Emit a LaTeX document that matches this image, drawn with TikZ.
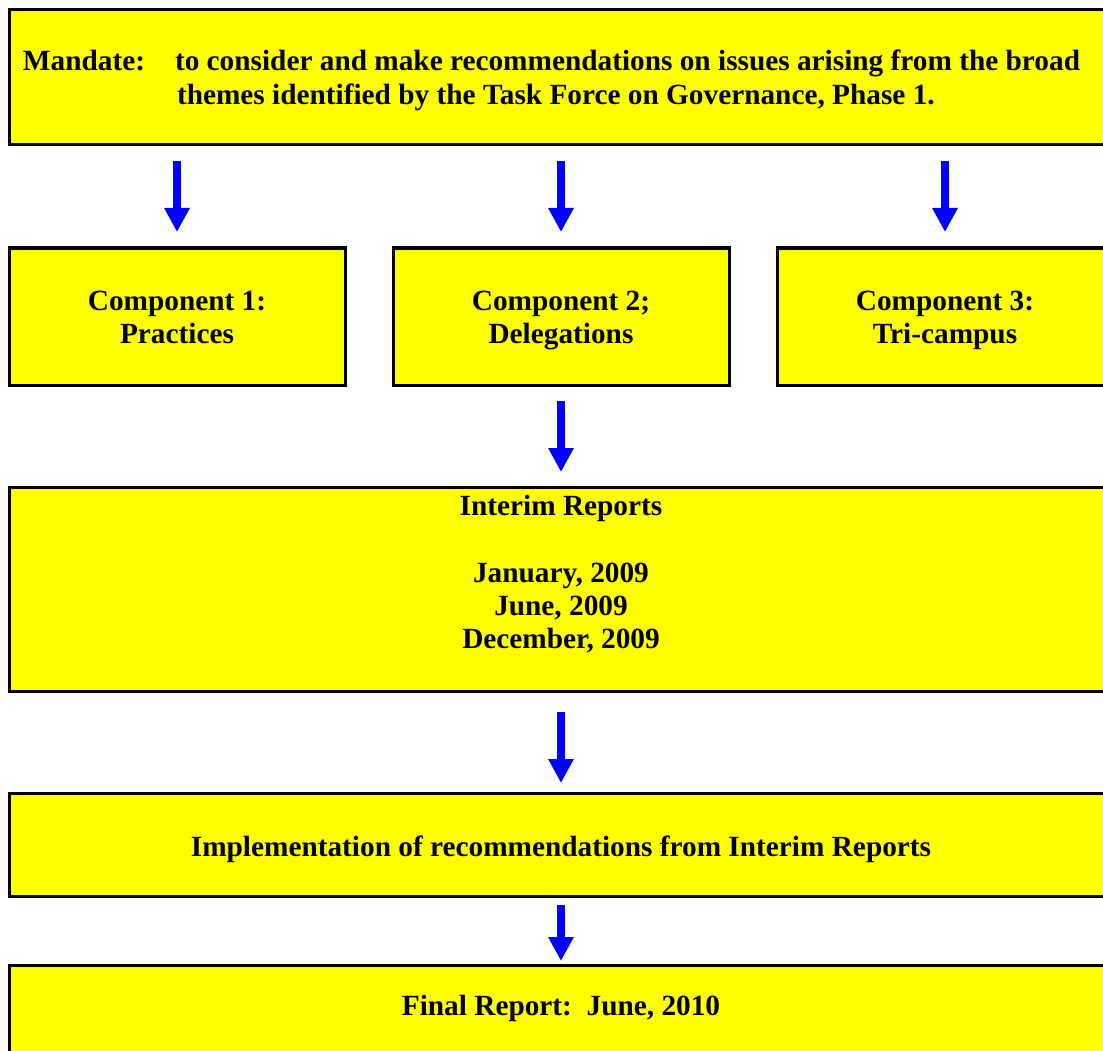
\documentclass[tikz,border=0pt]{standalone}
\usepackage{fontspec}
\setmainfont{Liberation Serif}
\usetikzlibrary{arrows.meta}
\definecolor{boxyellow}{HTML}{FFFF00}
\definecolor{flowblue}{HTML}{0000FF}
\begin{document}
\begin{tikzpicture}[x=1pt,y=-1pt,
  box/.style={draw=black,line width=3pt,fill=boxyellow,rectangle,inner sep=0pt,outer sep=0pt},
  txt/.style={inner sep=0pt,outer sep=0pt,font=\fontsize{29.3}{33.7}\selectfont\bfseries},
  flow/.style={draw=flowblue,line width=8pt,-{Triangle[width=24pt,length=24pt,fill=flowblue]}}]
\clip (0,0) rectangle (1103,1051);
\fill[white] (0,0) rectangle (1103,1051);
% boxes
\node[box,minimum width=1104pt,minimum height=135pt] (mandate) at (561,77.5) {};
\node[box,minimum width=336pt,minimum height=137pt] (c1) at (177,316.5) {};
\node[box,minimum width=336pt,minimum height=137pt] (c2) at (561,316.5) {};
\node[box,minimum width=336pt,minimum height=137pt] (c3) at (945,316.5) {};
\node[box,minimum width=1104pt,minimum height=204pt] (interim) at (561,589) {};
\node[box,minimum width=1104pt,minimum height=103pt] (impl) at (561,844.5) {};
\node[box,minimum width=1104pt,minimum height=110pt] (final) at (561,1020) {};
% texts
\node[txt,anchor=base west] (mlab) at (23,71) {Mandate:};
\node[txt,anchor=base west] (m1) at (175,71) {to consider and make recommendations on issues arising from the broad};
\node[txt,anchor=base west] (m2) at (177,105) {themes identified by the Task Force on Governance, Phase 1.};
\node[txt,anchor=base] (c1a) at (177,310) {Component 1:};
\node[txt,anchor=base] (c1b) at (177,343) {Practices};
\node[txt,anchor=base] (c2a) at (561,310) {Component 2;};
\node[txt,anchor=base] (c2b) at (561,343) {Delegations};
\node[txt,anchor=base] (c3a) at (945,310) {Component 3:};
\node[txt,anchor=base] (c3b) at (945,343) {Tri-campus};
\node[txt,anchor=base] (i1) at (561,515) {Interim Reports};
\node[txt,anchor=base] (i2) at (561,582) {January, 2009};
\node[txt,anchor=base] (i3) at (561,615) {June, 2009};
\node[txt,anchor=base] (i4) at (561,648) {December, 2009};
\node[txt,anchor=base] (im) at (561,856) {Implementation of recommendations from Interim Reports};
\node[txt,anchor=base] (fr) at (561,1015) {Final Report:\ \ June, 2010};
% arrows
\draw[flow,shorten <=16pt,shorten >=16pt] (c1.north |- mandate.south) -- (c1.north);
\draw[flow,shorten <=16pt,shorten >=16pt] (c2.north |- mandate.south) -- (c2.north);
\draw[flow,shorten <=16pt,shorten >=16pt] (c3.north |- mandate.south) -- (c3.north);
\draw[flow,shorten <=16pt,shorten >=15pt] (c2.south) -- (interim.north);
\draw[flow,shorten <=21pt,shorten >=10pt] (interim.south) -- (impl.north);
\draw[flow,shorten <=9pt,shorten >=4pt] (impl.south) -- (final.north);
\end{tikzpicture}
\end{document}
